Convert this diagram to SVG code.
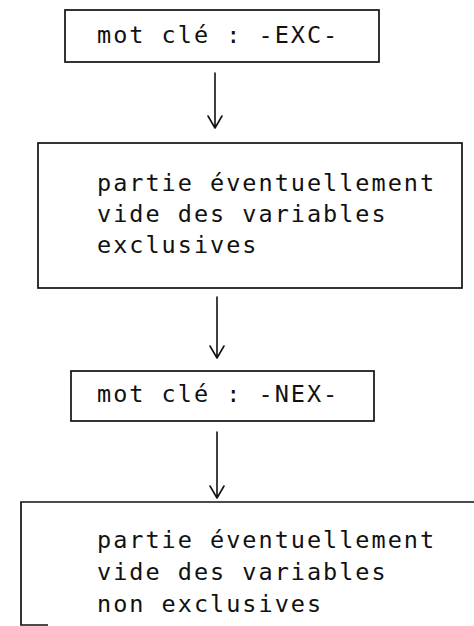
<svg xmlns="http://www.w3.org/2000/svg" width="474" height="626" viewBox="0 0 474 626">
<style>
.box{fill:none;stroke:#111;stroke-width:1.7}
.t{font-family:"DejaVu Sans Mono","Liberation Mono",monospace;font-size:23.5px;letter-spacing:2px;fill:#111}
.c{fill:none;stroke:#111;stroke-width:1.6;stroke-linecap:round;stroke-linejoin:round}
</style>
<rect width="474" height="626" fill="#fff"/>
<g id="n1">
<rect class="box" x="65" y="10" width="314" height="52"/>
<text class="t" x="97" y="43">mot clé : -EXC-</text>
</g>
<g id="n2">
<rect class="box" x="38" y="143" width="424" height="145"/>
<text class="t" x="97" y="191">partie éventuellement</text>
<text class="t" x="97" y="222">vide des variables</text>
<text class="t" x="97" y="253">exclusives</text>
</g>
<g id="n3">
<rect class="box" x="71" y="371" width="303" height="50"/>
<text class="t" x="97" y="402">mot clé : -NEX-</text>
</g>
<g id="n4">
<path class="box" d="M480 502 H21 V625 H48"/>
<text class="t" x="97" y="548">partie éventuellement</text>
<text class="t" x="97" y="580">vide des variables</text>
<text class="t" x="97" y="612">non exclusives</text>
</g>
<g id="connectors">
<path class="c" d="M215 73 V128 M208 116 L215 128 L222 116"/>
<path class="c" d="M217 297 V358 M210 346 L217 358 L224 346"/>
<path class="c" d="M217 432 V498 M210 486 L217 498 L224 486"/>
</g>
</svg>
